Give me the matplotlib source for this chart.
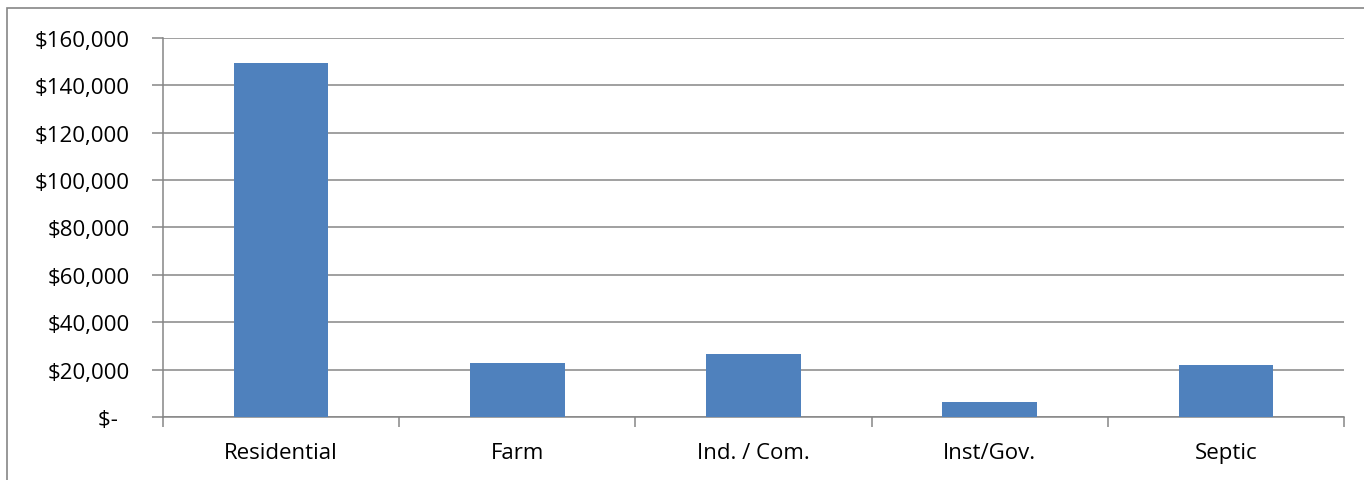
import matplotlib.pyplot as plt
from matplotlib.patches import Rectangle
from matplotlib.ticker import FuncFormatter
import numpy as np

categories = ["Residential", "Farm", "Ind. / Com.", "Inst/Gov.", "Septic"]
values = [149500, 22700, 26700, 6300, 21900]
y_ticks = [0, 20000, 40000, 60000, 80000, 100000, 120000, 140000, 160000]

plt.rcParams['font.family'] = ['Open Sans', 'DejaVu Sans']

fig = plt.figure(figsize=(13.64, 4.81), dpi=100)
grey = '#868686'

# outer chart border (cut off at right and bottom like the reference)
fig.patches.append(Rectangle((7 / 1364, -0.1), 1.2, 1 - 9 / 481 + 0.1,
                             transform=fig.transFigure, fill=False,
                             edgecolor=grey, linewidth=1.2))

ax = fig.add_axes([163 / 1364, 1 - 418 / 481, (1344 - 163) / 1364, (418 - 39) / 481])

x = np.arange(len(categories))
ax.bar(x, values, width=0.4, color='#4F81BD', zorder=3)

ax.set_xlim(-0.5, len(categories) - 0.5)
ax.set_ylim(0, 160000)
ax.set_yticks(y_ticks)
# accounting style: zero shows as "$-" with trailing padding
ax.yaxis.set_major_formatter(FuncFormatter(lambda v, p: '$-  ' if v == 0 else f'${v:,.0f}'))
ax.grid(axis='y', color=grey, linewidth=1.1, zorder=0)

ax.set_xticks(np.arange(-0.5, len(categories), 1.0))
ax.set_xticklabels([])
ax.set_xticks(x, minor=True)
ax.set_xticklabels(categories, minor=True)
ax.tick_params(axis='x', which='minor', length=0, pad=18, labelsize=16)
ax.tick_params(axis='x', which='major', length=7, color=grey, width=1.1)
ax.tick_params(axis='y', length=8, color=grey, width=1.1, labelsize=16, pad=16)

for side in ['top', 'right']:
    ax.spines[side].set_visible(False)
for side in ['left', 'bottom']:
    ax.spines[side].set_color(grey)
    ax.spines[side].set_linewidth(1.1)

fig.savefig('out.png', dpi=100)
